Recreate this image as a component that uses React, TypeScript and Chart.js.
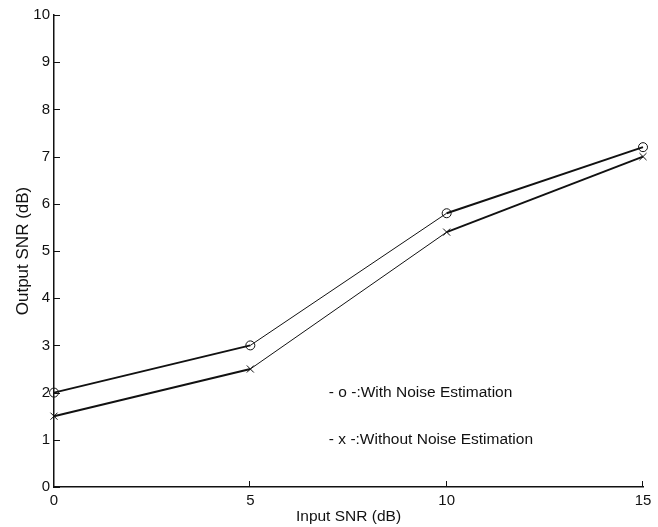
import React, { useEffect, useRef } from "react";
import { Chart, registerables } from "chart.js";

Chart.register(...registerables);

const inputSnr = [0, 5, 10, 15];
const withNoiseEst = [2.0, 3.0, 5.8, 7.2];
const withoutNoiseEst = [1.5, 2.5, 5.4, 7.0];
const legendLabels = ["- o -:With Noise Estimation", "- x -:Without Noise Estimation"];
const xTitle = "Input SNR (dB)";
const yTitle = "Output SNR (dB)";

const FONT = "'Liberation Sans', Arial, Helvetica, sans-serif";

const inwardTicks = {
  id: "inwardTicks",
  afterDraw(chart: any) {
    const { ctx, chartArea, scales } = chart;
    const xs = scales.x;
    const ys = scales.y;
    ctx.save();
    ctx.strokeStyle = "#111";
    ctx.lineWidth = 1;
    ys.ticks.forEach((t: any) => {
      const y = Math.round(ys.getPixelForValue(t.value)) + 0.5;
      ctx.beginPath();
      ctx.moveTo(chartArea.left, y);
      ctx.lineTo(chartArea.left + 6, y);
      ctx.stroke();
    });
    xs.ticks.forEach((t: any) => {
      const x = Math.round(xs.getPixelForValue(t.value)) - 0.5;
      ctx.beginPath();
      ctx.moveTo(x, chartArea.bottom);
      ctx.lineTo(x, chartArea.bottom - 6);
      ctx.stroke();
    });
    // annotation legend
    ctx.fillStyle = "#111";
    ctx.font = "15.5px " + FONT;
    ctx.textAlign = "left";
    ctx.textBaseline = "middle";
    const lx = xs.getPixelForValue(7.0);
    ctx.fillText(legendLabels[0], lx, ys.getPixelForValue(2.0));
    ctx.fillText(legendLabels[1], lx, ys.getPixelForValue(1.0));
    ctx.restore();
  },
};

const segWidth = (c: any) => (c.p0DataIndex === 1 ? 1 : 2);

export default function App() {
  const ref = useRef<HTMLCanvasElement | null>(null);
  useEffect(() => {
    document.body.style.margin = "0";
    const chart = new Chart(ref.current as HTMLCanvasElement, {
      type: "line",
      data: {
        datasets: [
          {
            label: legendLabels[0],
            data: inputSnr.map((x, i) => ({ x, y: withNoiseEst[i] })),
            borderColor: "#111",
            borderWidth: 1.6,
            segment: { borderWidth: segWidth } as any,
            pointStyle: "circle",
            pointRadius: 4.5,
            pointBorderWidth: 1,
            pointBorderColor: "#111",
            pointBackgroundColor: "rgba(255,255,255,0)",
            tension: 0,
            clip: false as any,
          },
          {
            label: legendLabels[1],
            data: inputSnr.map((x, i) => ({ x, y: withoutNoiseEst[i] })),
            borderColor: "#111",
            borderWidth: 1.6,
            segment: { borderWidth: segWidth } as any,
            pointStyle: "crossRot",
            pointRadius: 5,
            pointBorderWidth: 1,
            pointBorderColor: "#111",
            tension: 0,
            clip: false as any,
          },
        ],
      },
      options: {
        animation: false,
        responsive: true,
        maintainAspectRatio: false,
        layout: { padding: { top: 15, right: 15, left: 0, bottom: 0 } },
        plugins: { legend: { display: false }, tooltip: { enabled: false } },
        scales: {
          x: {
            type: "linear",
            min: 0,
            max: 15,
            ticks: { stepSize: 5, color: "#111", font: { family: FONT, size: 15 }, padding: 5, maxRotation: 0 },
            grid: { display: false, drawTicks: false },
            border: { display: true, color: "#111", width: 1.5 },
            title: { display: true, text: xTitle, color: "#111", font: { family: FONT, size: 15.5 }, padding: { top: 0, bottom: 1 } },
            afterFit: (s: any) => { s.height = 40; },
          },
          y: {
            type: "linear",
            min: 0,
            max: 10,
            ticks: { stepSize: 1, color: "#111", font: { family: FONT, size: 15 }, padding: 4 },
            grid: { display: false, drawTicks: false },
            border: { display: true, color: "#111", width: 1.5 },
            title: { display: true, text: yTitle, color: "#111", font: { family: FONT, size: 17 }, padding: { top: 13, bottom: 0 } },
            afterFit: (s: any) => { s.width = 54; },
          },
        },
      },
      plugins: [inwardTicks],
    });
    return () => chart.destroy();
  }, []);
  return (
    <div style={{ position: "fixed", left: 0, top: 0, width: 658, height: 527, background: "#fff" }}>
      <canvas ref={ref} />
    </div>
  );
}
